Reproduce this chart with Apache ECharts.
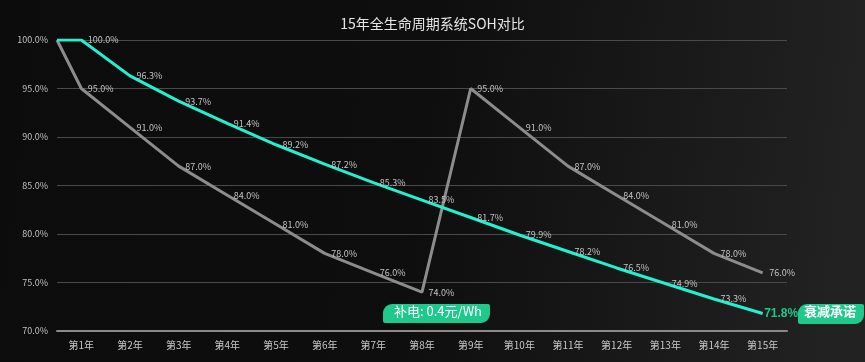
<!DOCTYPE html>
<html>
<head>
<meta charset="utf-8">
<style>
html,body{margin:0;padding:0;background:#0b0b0b;}
#c{width:865px;height:362px;}
</style>
<script src="https://cdn.jsdelivr.net/npm/echarts@6/dist/echarts.min.js"></script>
</head>
<body>
<div id="c"></div>
<script>
const categories = ['第1年','第2年','第3年','第4年','第5年','第6年','第7年','第8年','第9年','第10年','第11年','第12年','第13年','第14年','第15年'];
const startValue = 100;
const grayValues = [95,91,87,84,81,78,76,74,95,91,87,84,81,78,76];
const cyanValues = [100,96.3,93.7,91.4,89.2,87.2,85.3,83.5,81.7,79.9,78.2,76.5,74.9,73.3,71.8];
const yTicks = [70,75,80,85,90,95,100];

const FONT = '"Noto Sans CJK SC","Noto Sans",sans-serif';

function toPoints(vals){
  const pts = [[0, startValue, true]];
  vals.forEach((v,i)=>pts.push([i+0.5, v, false]));
  return pts;
}

const chart = echarts.init(document.getElementById('c'));
const lastIdx = cyanValues.length;
const baseLabel = {show:true, position:'right', distance:6, color:'#c4c4c4', fontSize:9, fontFamily:FONT,
  formatter:p=>p.value[1].toFixed(1)+'%'};

chart.setOption({
  backgroundColor: {
    type:'linear', x:0, y:0, x2:1, y2:0.3,
    colorStops:[{offset:0,color:'#0c0c0c'},{offset:0.5,color:'#0e0e0e'},{offset:1,color:'#222222'}]
  },
  title:{
    text:'15年全生命周期系统SOH对比',
    left:'center', top:12,
    textStyle:{color:'#e6e6e6', fontSize:14, fontWeight:'normal', fontFamily:FONT}
  },
  grid:{left:57, right:78, top:40, bottom:31},
  xAxis:[{
    type:'category', data:categories, boundaryGap:true,
    axisLine:{show:true, lineStyle:{color:'#8a8a8a', width:2}},
    axisTick:{show:false},
    axisLabel:{color:'#c8c8c8', fontSize:10, margin:9, fontFamily:FONT}
  },{
    type:'value', min:0, max:categories.length, show:false
  }],
  yAxis:{
    type:'value', min:yTicks[0], max:yTicks[yTicks.length-1], interval:5,
    axisLine:{show:false}, axisTick:{show:false},
    axisLabel:{color:'#c0c0c0', fontSize:9, margin:9, fontFamily:FONT, formatter:v=>v.toFixed(1)+'%'},
    splitLine:{lineStyle:{color:'#4a4a4a', width:1}}
  },
  series:[{
    type:'line', xAxisIndex:1, name:'gray',
    data: toPoints(grayValues).map(p=>({value:[p[0],p[1]], label:{show:!p[2]}})),
    symbol:'circle', symbolSize:1, showSymbol:true, itemStyle:{color:'rgba(0,0,0,0)'},
    lineStyle:{color:'#8c8c8c', width:3}, z:2,
    label:baseLabel, labelLayout:{hideOverlap:false}
  },{
    type:'line', xAxisIndex:1, name:'cyan',
    data: toPoints(cyanValues).map((p,i)=>{
      const o = {value:[p[0],p[1]], label:{show:!p[2]}};
      if(i===lastIdx){
        o.label = {show:true, color:'#1fc88a', fontSize:12, fontWeight:'bold', distance:1, offset:[0,-3], fontFamily:'"Liberation Sans",sans-serif'};
      }
      return o;
    }),
    symbol:'circle', symbolSize:1, showSymbol:true, itemStyle:{color:'rgba(0,0,0,0)'},
    lineStyle:{color:'#22f0cf', width:3}, z:3,
    label:baseLabel, labelLayout:{hideOverlap:false}
  }],
  graphic:[{
    type:'rect', left:383, top:304, z:10,
    shape:{width:107,height:19,r:[9,2,9,2]},
    style:{fill:'#1ec98b'}
  },{
    type:'text', left:394, top:305, z:11,
    style:{text:'补电: 0.4元/Wh', fill:'#ffffff', fontSize:13, fontFamily:FONT}
  },{
    type:'rect', left:798, top:304, z:10,
    shape:{width:66,height:20,r:[9,2,9,2]},
    style:{fill:'#1ec98b'}
  },{
    type:'text', left:804, top:305, z:11,
    style:{text:'衰减承诺', fill:'#ffffff', fontSize:13, fontWeight:'bold', fontFamily:FONT}
  }]
});
</script>
</body>
</html>
